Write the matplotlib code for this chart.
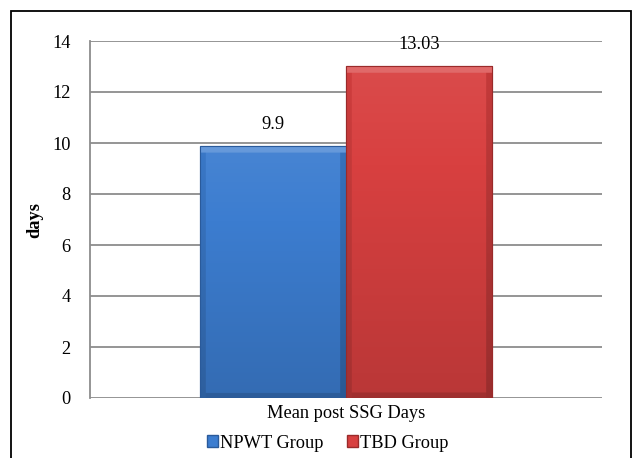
import numpy as np
import matplotlib
matplotlib.use("Agg")
import matplotlib.pyplot as plt
from matplotlib.patches import Rectangle

plt.rcParams['font.family'] = ['Liberation Serif', 'DejaVu Serif']

category = "Mean post SSG Days"
groups = ["NPWT Group", "TBD Group"]
values = [9.9, 13.03]
value_labels = ["9.9", "13.03"]
yticks = [0, 2, 4, 6, 8, 10, 12, 14]

base_colors = ["#3c7dd0", "#d84040"]
edge_colors = ["#2a5a9a", "#9a2a2a"]

FS = 13.2

fig = plt.figure(figsize=(6.33, 4.58), dpi=100)
ax = fig.add_axes([90 / 633, 1 - 398 / 458, 512 / 633, 357 / 458])

# outer chart frame
frame = Rectangle((11 / 633, -0.05), 620 / 633, 1.05 - 11 / 458,
                  transform=fig.transFigure, fill=False, edgecolor="black",
                  linewidth=1.3, zorder=0)
fig.patches.append(frame)

width = 0.57
offsets = [-width / 2, width / 2]
px_per_unit = 357 / 14

for i, (v, col, ec) in enumerate(zip(values, base_colors, edge_colors)):
    bars = ax.bar(offsets[i], v, width=width, color=col, edgecolor=ec,
                  linewidth=0.8, zorder=3, label=groups[i])
    patch = bars[0]
    # shaded fill: darker towards the bottom, with beveled edges
    ny, nx = 300, 150
    yy = np.linspace(0, 1, ny)[:, None]
    xx = np.linspace(0, 1, nx)[None, :]
    f = 0.06 - 0.2 * (1 - yy)
    f = np.broadcast_to(f, (ny, nx)).copy()
    h_px = v * px_per_unit
    w_px = 146.0
    ypx = yy * h_px
    xpx = xx * w_px
    top = (h_px - ypx) < 7
    bot = ypx < 5
    left = xpx < 5
    right = (w_px - xpx) < 5
    f = np.where(top, f + 0.16, f)
    f = np.where(left & ~top, f - 0.10, f)
    f = np.where(right & ~top, f - 0.15, f)
    f = np.where(bot & ~left & ~right, f - 0.12, f)
    c = np.array(matplotlib.colors.to_rgb(col))
    pos = np.clip(f, 0, None)[..., None]
    neg = np.clip(f, None, 0)[..., None]
    img = np.clip(c + (1 - c) * pos + c * neg, 0, 1)
    x0 = offsets[i] - width / 2
    im = ax.imshow(img, extent=[x0, x0 + width, 0, v], origin="lower",
                   aspect="auto", zorder=3.5, interpolation="bilinear")
    im.set_clip_path(patch)
    ax.add_patch(Rectangle((x0, 0), width, v, fill=False, edgecolor=ec,
                           linewidth=0.8, zorder=4))
    ax.text(offsets[i], v + 0.5, value_labels[i], ha="center", va="bottom",
            fontsize=FS, zorder=5)

ax.set_xlim(-1, 1)
ax.set_ylim(0, 14)
ax.set_yticks(yticks)
ax.set_yticklabels([str(t) for t in yticks], fontsize=FS)
ax.set_xticks([0])
ax.set_xticklabels([category], fontsize=FS)
ax.tick_params(axis="x", length=0, pad=5)
ax.tick_params(axis="y", length=0, pad=14)
ax.yaxis.grid(True, color="#8c8c8c", linewidth=1.3, zorder=0)
ax.set_axisbelow(True)
for s in ["top", "right", "bottom"]:
    ax.spines[s].set_visible(False)
ax.spines["left"].set_color("#8c8c8c")
ax.spines["left"].set_linewidth(1.3)
ax.set_ylabel("days", fontsize=FS, fontweight="bold", labelpad=6)

handles = [Rectangle((0, 0), 1, 1, facecolor=col, edgecolor=ec)
           for col, ec in zip(base_colors, edge_colors)]
fig.legend(handles, groups, loc="center", bbox_to_anchor=(328 / 633, 1 - 443 / 458),
           ncol=2, frameon=False, fontsize=FS, handlelength=0.6, handleheight=0.6,
           handletextpad=0.1, columnspacing=1.3)

fig.savefig("out.png", dpi=100)
